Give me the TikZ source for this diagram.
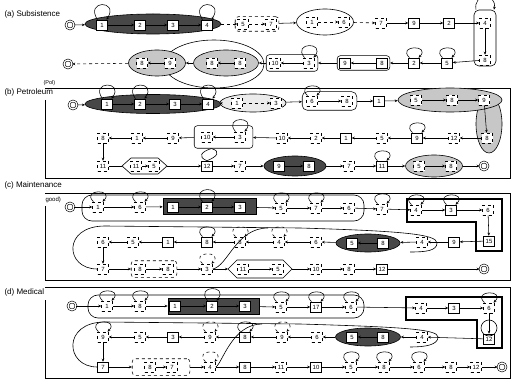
\documentclass[tikz,border=0pt]{standalone}
\usepackage{fontspec}
\setmainfont{Liberation Sans}
\usetikzlibrary{arrows.meta,shapes.geometric,fit}
\tikzset{
 bx/.style={draw, fill=white, minimum width=11pt, minimum height=10pt, inner sep=0.5pt, font=\fontsize{6}{6}\selectfont, line width=0.55pt},
 dbx/.style={bx, dashed},
 st/.style={draw, circle, double, double distance=1.2pt, minimum size=8pt, inner sep=0pt, line width=0.6pt},
 ar/.style={-{Stealth[length=3pt,width=2.6pt]}, line width=0.55pt},
 dar/.style={ar, dashed},
 dk/.style={fill=black!72, draw=black, line width=0.6pt},
 lt/.style={fill=black!22, draw=black, line width=0.6pt},
 ell/.style={ellipse, inner sep=0pt},
 grp/.style={draw, rounded corners=3pt, line width=0.55pt},
 frm/.style={line width=0.7pt},
 ttl/.style={anchor=west, font=\fontsize{8}{9}\selectfont},
 thk/.style={line width=1.3pt},
 shp/.style={line width=0.6pt},
}
\newcommand\myloop[2][13]{\draw[ar] ([xshift=-4.5pt]#2.north) .. controls +(-13,#1) and +(13,#1) .. ([xshift=4.5pt]#2.north);}
\newcommand\mydloop[2][13]{\draw[dar] ([xshift=-4.5pt]#2.north) .. controls +(-13,#1) and +(13,#1) .. ([xshift=4.5pt]#2.north);}
\begin{document}
\begin{tikzpicture}[x=1pt,y=1pt]
\useasboundingbox (0,0) rectangle (514,-382);
% ================= (a) =================
\node[ttl] (ta) at (1,-14) {(a) Subsistence};
\node[st] (sa) at (70,-25) {};
\node[ell, dk, minimum width=136pt, minimum height=20pt] (ea) at (153,-24) {};
\node[bx] (a1) at (102,-25) {1};
\node[bx] (a2) at (140,-25) {2};
\node[bx] (a3) at (173,-25) {3};
\node[bx] (a4) at (207,-25) {4};
\foreach \u/\v in {a1/a2,a2/a3,a3/a4} \draw[ar] (\u) -- (\v);
\draw[ar] (sa) -- (ea);
\myloop[20]{a1}\myloop[20]{a4}
\node[dbx] (a5) at (243,-24) {5};
\node[dbx] (a7) at (271,-24) {7};
\node[grp, dashed, fit=(a5)(a7), inner sep=2pt] (ga) {};
\draw[dar] (ea) -- (a5);
\draw[dar] (a5) -- (a7);
\node[ell, draw, shp, minimum width=57pt, minimum height=26pt] (eo) at (325,-22) {};
\node[dbx] (o1) at (312,-22) {1};
\node[dbx] (o6) at (344,-22) {6};
\draw[ar] (ga) -- (eo);
\draw[dar] (o1) -- (o6);
\node[dbx] (a7b) at (381,-23) {7};
\node[bx] (a9b) at (414,-23) {9};
\node[bx] (a2b) at (449,-23) {2};
\node[draw, rounded corners=5pt, minimum width=22pt, minimum height=56pt, line width=0.6pt] (tb) at (485,-38) {};
\node[dbx] (a4b) at (485,-23) {4};
\node[dbx] (a8b) at (485,-60) {8};
\draw[dar] (eo) -- (a7b);
\foreach \u/\v in {a7b/a9b,a9b/a2b,a2b/a4b,a4b/a8b} \draw[ar] (\u) -- (\v);
\draw[ar] ([xshift=-9pt]tb.north) .. controls +(-3,17) and +(3,17) .. ([xshift=9pt]tb.north);
% row 2
\node[bx] (a5c) at (447,-63) {5}; \myloop{a5c}
\node[bx] (a2c) at (414,-63) {2}; \myloop{a2c}
\node[bx] (a9c) at (345,-63) {9};
\node[bx] (a8c) at (382,-63) {8};
\node[grp, fit=(a9c)(a8c), inner sep=2pt] (gr) {};
\node[dbx] (a10) at (275,-63) {10};
\node[dbx] (a3c) at (309,-63) {3}; \myloop[16]{a3c}
\node[grp, fit=(a10)(a3c), inner sep=3pt] (gb) {};
\draw[shp] (214,-64) ellipse [x radius=50, y radius=24];
\node[ell, lt, minimum width=65pt, minimum height=26pt] (ec2) at (226,-63) {};
\node[dbx] (a8d) at (212,-63) {8};
\node[dbx] (a8e) at (240,-63) {8};
\node[ell, lt, minimum width=57pt, minimum height=26pt] (ec1) at (157,-63) {};
\node[dbx] (a8f) at (142,-63) {8};
\node[dbx] (a9f) at (170,-63) {9};
\node[st] (eA) at (68,-64) {};
\foreach \u/\v in {a8b/a5c,a5c/a2c,a2c/gr,a8c/a9c,gr/gb,a3c/a10,gb/ec2,a8e/a8d,ec2/ec1,a9f/a8f} \draw[ar] (\u) -- (\v);
\draw[dar] (ec1) -- (eA);
% ================= (b) =================
\draw[frm] (45,-100) -- (45,-178) -- (510,-178) -- (510,-88) -- (45,-88);
\node[anchor=west, font=\fontsize{5.5}{6}\selectfont] (pol) at (40,-83) {(Pol)};
\node[ttl] (tB) at (1,-92) {(b) Petroleum};
\node[st] (sb) at (73,-105) {};
\node[ell, dk, minimum width=136pt, minimum height=19pt] (eb) at (153,-104) {};
\node[bx] (b1) at (107,-104) {1};
\node[bx] (b2) at (140,-104) {2};
\node[bx] (b3) at (175,-104) {3};
\node[bx] (b4) at (208,-104) {4};
\myloop[18]{b1}\myloop[18]{b2}\myloop[18]{b4}
\node[ell, draw, shp, fill=black!8, minimum width=66pt, minimum height=18pt] (ebo) at (253,-103) {};
\node[dbx] (bo1) at (237,-103) {1};
\node[dbx] (bo3) at (276,-103) {3};
\node[dbx] (b6) at (312,-101) {6};
\node[dbx] (b8) at (347,-101) {8};
\node[grp, fit=(b6)(b8), inner sep=4pt, rounded corners=5pt] (gb6) {};
\myloop{b6}
\node[bx] (b1x) at (379,-101) {1};
\node[ell, lt, minimum width=26pt, minimum height=58pt] (bl) at (489,-124) {};
\node[ell, lt, minimum width=104pt, minimum height=24pt] (elb) at (450,-100) {};
\node[dbx] (b5) at (416,-100) {5};
\node[dbx] (b8x) at (452,-100) {8};
\node[dbx] (b9) at (484,-100) {9};
\node[dbx] (b8v) at (487,-138) {8};
\draw[ar] (sb) -- (eb);
\foreach \u/\v in {b1/b2,b2/b3,b3/b4,eb/ebo,ebo/gb6,b6/b8,gb6/b1x,b1x/elb,b5/b8x,b8x/b9,b9/b8v} \draw[ar] (\u) -- (\v);
\draw[dar] (bo1) -- (bo3);
% row 2
\node[dbx] (b12) at (454,-138) {12};
\node[bx] (b9r) at (417,-138) {9}; \myloop{b9r}
\node[dbx] (b5r) at (382,-138) {5};
\node[bx] (b1r) at (346,-138) {1};
\node[dbx] (b2r) at (316,-138) {2};
\node[dbx] (b10r) at (282,-138) {10};
\node[dbx] (b10g) at (207,-137) {10};
\node[dbx] (b3g) at (240,-137) {3};
\node[grp, fit=(b10g)(b3g), inner xsep=7pt, inner ysep=6pt] (gbg) {};
\myloop[16]{b3g}
\node[dbx] (b9l) at (173,-138) {9};
\node[dbx] (b1l) at (137,-138) {1};
\node[dbx] (b8l) at (103,-138) {8};
\foreach \u/\v in {b8v/b12,b12/b9r,b9r/b5r,b5r/b1r,b1r/b2r,b2r/b10r,b10r/gbg,b3g/b10g,gbg/b9l,b9l/b1l,b1l/b8l} \draw[ar] (\u) -- (\v);
% row 3
\node[dbx] (b11l) at (103,-166) {11};
\draw[ar] (b8l) -- (b11l);
\draw[shp] (122,-166) -- (131,-158) -- (158,-158) -- (167,-166) -- (158,-174) -- (131,-174) -- cycle;
\coordinate (hbL) at (122,-166);
\coordinate (hbR) at (167,-166);
\node[dbx] (b11h) at (136,-166) {11};
\node[dbx] (b5h) at (154,-166) {5};
\node[bx] (b12l) at (207,-166) {12};
\node[dbx] (b7) at (240,-166) {7};
\node[ell, dk, minimum width=62pt, minimum height=20pt] (ed3) at (295,-166) {};
\node[bx] (b9d) at (279,-166) {9};
\node[bx] (b8d) at (309,-166) {8};
\node[dbx] (b7b) at (349,-166) {7};
\node[bx] (b11b) at (382,-166) {11}; \myloop{b11b}
\node[ell, lt, minimum width=57pt, minimum height=22pt] (el3) at (434,-166) {};
\node[dbx] (b5e) at (419,-166) {5};
\node[dbx] (b8e) at (451,-166) {8};
\node[st] (eB) at (484,-166) {};
\draw[shp] (b11l) -- (hbL);
\draw[ar] (hbR) -- (b12l);
\foreach \u/\v in {b11h/b5h,b12l/b7,b7/ed3,b9d/b8d,ed3/b7b,b7b/b11b,b11b/el3,b5e/b8e,el3/eB} \draw[ar] (\u) -- (\v);
\draw[shp] ([xshift=-12pt]gbg.south) .. controls +(-10,-3) and +(-10,4) .. (b12l.north);
\draw[shp] ([xshift=-12pt]gbg.south) .. controls +(10,-3) and +(10,4) .. (b12l.north);
% ================= (c) =================
\draw[frm] (45,-206) -- (45,-280) -- (510,-280) -- (510,-193) -- (45,-193);
\node[ttl] (tC) at (1,-185) {(c) Maintenance};
\node[anchor=west, font=\fontsize{6}{6}\selectfont] (tCg) at (42,-200) {good)};
\node[st] (sc) at (70,-207) {};
\draw[shp, rounded corners=10pt] (82,-195) rectangle (364,-221);
\node[dbx] (c1) at (98,-207) {1}; \myloop{c1}
\node[dbx] (c6) at (140,-207) {6}; \myloop{c6}
\node[dk, minimum width=93pt, minimum height=16pt, inner sep=0pt] (dc) at (209.5,-206.5) {};
\node[bx] (c1d) at (173,-207) {1};
\node[bx] (c2d) at (207,-207) {2}; \myloop[16]{c2d}
\node[bx] (c3d) at (240,-207) {3};
\node[dbx] (c5) at (281,-208) {5}; \myloop{c5}
\node[dbx] (c7) at (316,-208) {7}; \myloop{c7}
\node[dbx] (c6b) at (349,-208) {6};
\node[dbx] (c7b) at (382,-209) {7}; \myloop{c7b}
\draw[thk] (407,-199) -- (502,-199) -- (502,-251) -- (476,-251) -- (476,-222) -- (407,-222) -- cycle;
\node[dbx] (c4) at (416,-210) {4}; \myloop{c4}
\node[bx] (c3) at (451,-210) {3}; \myloop{c3}
\node[dbx] (c6c) at (488,-210) {6};
\node[bx] (c15) at (489,-241) {15};
\foreach \u/\v in {sc/c1,c1/c6,c6/dc,c1d/c2d,c2d/c3d,dc/c5,c5/c7,c7/c6b,c6b/c7b,c7b/c4,c4/c3,c3/c6c,c6c/c15} \draw[ar] (\u) -- (\v);
% row 2
\node[bx] (c9) at (454,-242) {9};
\node[dbx] (c4e) at (422,-242) {4};
\node[ell, dk, minimum width=64pt, minimum height=18pt] (ecc) at (368,-243) {};
\node[bx] (c5e) at (352,-243) {5};
\node[bx] (c8e) at (383,-243) {8};
\node[dbx] (c6r) at (316,-242) {6};
\node[dbx] (c4r) at (279,-242) {4}; \mydloop{c4r}
\node[dbx] (c8r) at (240,-242) {8}; \mydloop{c8r}
\node[bx] (c8s) at (207,-242) {8}; \myloop{c8s}
\node[bx] (c1r) at (168,-242) {1};
\node[dbx] (c5r) at (133,-242) {5};
\node[dbx] (c6l) at (103,-242) {6};
\node[dbx] (c7l) at (103,-269) {7};
\foreach \u/\v in {c15/c9,c9/c4e,c4e/ecc,c8e/c5e,ecc/c6r,c6r/c4r,c4r/c8r,c8r/c8s,c8s/c1r,c1r/c5r,c5r/c6l,c6l/c7l} \draw[ar] (\u) -- (\v);
\draw[shp] (c7l.west) .. controls (65,-269) and (62,-226) .. (105,-226) -- (300,-228) .. controls (400,-231) and (437,-234) .. (437,-243) .. controls (437,-251) and (425,-252) .. (410,-252);
% row 3
\node[dbx] (c8a) at (140,-269) {8};
\node[dbx] (c8b) at (168,-269) {8};
\node[grp, dashed, fit=(c8a)(c8b), inner sep=3pt] (gc) {};
\node[dbx] (c3r) at (207,-269) {3}; \mydloop{c3r}
\draw[shp] (228,-269) -- (237,-260) -- (283,-260) -- (292,-269) -- (283,-278) -- (237,-278) -- cycle;
\coordinate (hcL) at (228,-269);
\coordinate (hcR) at (292,-269);
\node[dbx] (c11h) at (243,-269) {11};
\node[dbx] (c5h) at (278,-269) {5};
\node[dbx] (c10) at (316,-269) {10};
\node[dbx] (c8t) at (349,-269) {8};
\node[bx] (c12) at (382,-269) {12};
\node[st] (eC) at (484,-269) {};
\coordinate (cj) at (268,-228);
\foreach \u/\v in {c7l/gc,c8a/c8b,gc/c3r,c3r/hcL,c11h/c5h,hcR/c10,c10/c8t,c8t/c12,c12/eC} \draw[ar] (\u) -- (\v);
\draw[shp] (c3r.east) .. controls (228,-266) and (236,-228) .. (cj);
% ================= (d) =================
\draw[frm] (45,-300) -- (45,-378) -- (510,-378) -- (510,-287) -- (45,-287);
\node[ttl] (tD) at (1,-292) {(d) Medical};
\node[st] (sd) at (72,-306) {};
\draw[shp, rounded corners=10pt] (88,-295) rectangle (364,-318);
\node[dbx] (d1) at (107,-306) {1}; \myloop{d1}
\node[dbx] (d8) at (140,-306) {8}; \myloop{d8}
\node[dk, minimum width=91pt, minimum height=16pt, inner sep=0pt] (dd) at (213.5,-306) {};
\node[bx] (d1d) at (175,-306) {1};
\node[bx] (d2d) at (212,-306) {2}; \myloop[16]{d2d}
\node[bx] (d3d) at (245,-306) {3};
\node[dbx] (d5) at (281,-307) {5}; \myloop{d5}
\node[bx] (d17) at (316,-307) {17}; \myloop{d17}
\node[dbx] (d6) at (351,-307) {6}; \myloop{d6}
\draw[thk] (406,-297) -- (502,-297) -- (502,-348) -- (477,-348) -- (477,-320) -- (406,-320) -- cycle;
\node[dbx] (d4) at (421,-308) {4};
\node[bx] (d3) at (454,-308) {3};
\node[dbx] (d6b) at (489,-308) {6}; \myloop{d6b}
\node[bx] (d12) at (489,-339) {12};
\draw[shp] (489,-328) circle [radius=8pt];
\foreach \u/\v in {sd/d1,d1/d8,d8/dd,d1d/d2d,d2d/d3d,dd/d5,d5/d17,d17/d6,d6/d4,d4/d3,d3/d6b,d6b/d12} \draw[ar] (\u) -- (\v);
% row 2
\node[dbx] (d4e) at (422,-337) {4};
\node[ell, dk, minimum width=65pt, minimum height=18pt] (edd) at (368,-337) {};
\node[bx] (d5e) at (352,-337) {5};
\node[bx] (d8e) at (383,-337) {8};
\node[dbx] (d6r) at (317,-337) {6};
\node[dbx] (d9r) at (282,-337) {9}; \mydloop{d9r}
\node[bx] (d8r) at (245,-337) {8}; \myloop{d8r}
\node[dbx] (d9s) at (210,-337) {9}; \mydloop{d9s}
\node[bx] (d3r) at (173,-337) {3};
\node[dbx] (d5r) at (140,-337) {5};
\node[dbx] (d9l) at (103,-337) {9}; \myloop{d9l}
\node[bx] (d7l) at (103,-367) {7};
\foreach \u/\v in {d12/d4e,d4e/edd,d8e/d5e,edd/d6r,d6r/d9r,d9r/d8r,d8r/d9s,d9s/d3r,d3r/d5r,d5r/d9l,d9l/d7l} \draw[ar] (\u) -- (\v);
\draw[shp] (d7l.west) .. controls (65,-367) and (62,-322) .. (105,-322) -- (300,-324) .. controls (400,-327) and (438,-329) .. (438,-337) .. controls (438,-345) and (425,-347) .. (410,-347);
% row 3
\node[dbx] (d8a) at (150,-367) {8};
\node[dbx] (d7a) at (172,-367) {7};
\node[grp, dashed, fit=(d8a)(d7a), inner xsep=12pt, inner ysep=3pt] (gd) {};
\node[dbx] (d4r) at (210,-367) {4}; \mydloop{d4r}
\node[bx] (d8t) at (245,-367) {8};
\node[dbx] (d11) at (281,-367) {11};
\node[bx] (d10) at (316,-367) {10};
\node[dbx] (d5t) at (351,-367) {5}; \myloop{d5t}
\node[dbx] (d8u) at (384,-367) {8}; \myloop{d8u}
\node[dbx] (d6t) at (419,-367) {6}; \myloop{d6t}
\node[dbx] (d8v) at (451,-367) {8};
\node[dbx] (d12t) at (476,-367) {12};
\node[st] (eD) at (502,-367) {};
\coordinate (dj) at (262,-324);
\foreach \u/\v in {d7l/gd,d8a/d7a,gd/d4r,d4r/d8t,d8t/d11,d11/d10,d10/d5t,d5t/d8u,d8u/d6t,d6t/d8v,d8v/d12t,d12t/eD} \draw[ar] (\u) -- (\v);
\draw[shp] (d4r.east) .. controls (222,-364) and (232,-324) .. (dj);
\end{tikzpicture}
\end{document}
